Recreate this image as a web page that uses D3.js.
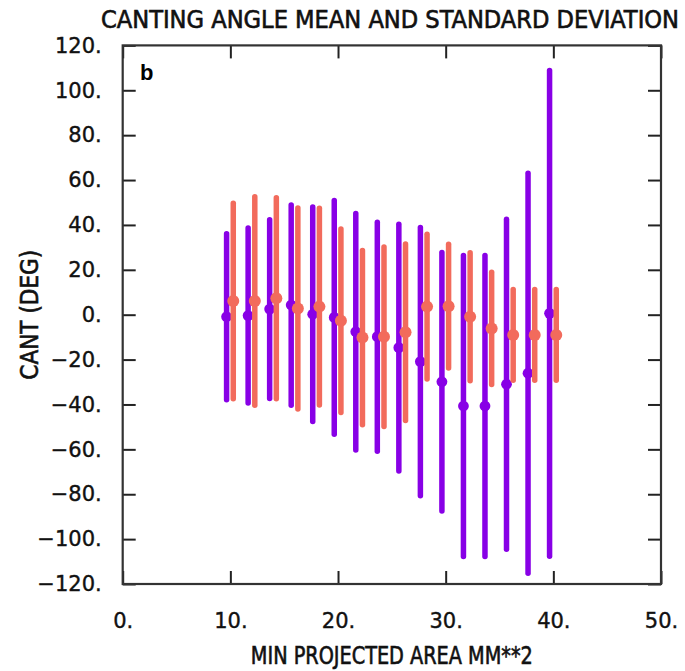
<!DOCTYPE html>
<html>
<head>
<meta charset="utf-8">
<script src="https://cdn.jsdelivr.net/npm/d3@7"></script>
<style>
  body { margin: 0; background: #fff; }
  svg { display: block; }
</style>
</head>
<body>
<div id="chart"></div>
<script>
// bin centres (mm**2) and canting angle stats (deg) for the two series
var bins = [10, 12, 14, 16, 18, 20, 22, 24, 26, 28, 30, 32, 34, 36, 38, 40];
var purpleMean = [-0.9, -0.4, 2.5, 4.3, 0.2, -1.2, -7.6, -9.8, -14.7, -20.9, -29.9, -40.7, -40.7, -31.0, -26.1, 0.6];
var purpleStd = [37.0, 39.0, 39.8, 44.6, 47.8, 52.1, 52.7, 51.0, 55.0, 59.8, 57.6, 67.1, 67.1, 73.5, 89.1, 108.2];
var orangeMean = [6.1, 6.1, 7.3, 2.8, 3.6, -2.7, -10.2, -9.8, -7.8, 3.6, 3.8, -0.9, -6.1, -9.0, -9.0, -9.0];
var orangeStd = [43.6, 46.5, 44.8, 44.8, 43.8, 40.9, 38.8, 40.0, 39.3, 32.3, 27.6, 28.5, 25.0, 20.2, 20.2, 20.2];
var xTicks = [0, 10, 20, 30, 40, 50];
var yTicks = [-120, -100, -80, -60, -40, -20, 0, 20, 40, 60, 80, 100, 120];

var W = 685, H = 671;
var margin = {top: 45.4, right: 24, bottom: 87, left: 122.7};
var w = W - margin.left - margin.right,
    h = H - margin.top - margin.bottom;

var svg = d3.select('#chart').append('svg')
  .attr('width', W)
  .attr('height', H);

var g = svg.append('g')
  .attr('transform', 'translate(' + margin.left + ',' + margin.top + ')');

var x = d3.scaleLinear().domain([0, 50]).range([0, w]);
var y = d3.scaleLinear().domain([-120, 120]).range([h, 0]);

function fmt(d) {
  return (d < 0 ? '\u2212' + (-d) : d) + '.';
}

var tickLen = 13;
var labelFont = '"DejaVu Sans", sans-serif';

// axes: ticks point inward like the NCAR perimeter
g.append('g')
  .call(d3.axisLeft(y).tickValues(yTicks).tickSizeInner(-tickLen).tickSizeOuter(0).tickPadding(21).tickFormat(fmt));
g.append('g')
  .attr('transform', 'translate(' + w + ',0)')
  .call(d3.axisRight(y).tickValues(yTicks).tickSizeInner(-tickLen).tickSizeOuter(0).tickFormat(''));
g.append('g')
  .attr('transform', 'translate(0,' + h + ')')
  .call(d3.axisBottom(x).tickValues(xTicks).tickSizeInner(-tickLen).tickSizeOuter(0).tickPadding(29).tickFormat(fmt));
g.append('g')
  .call(d3.axisTop(x).tickValues(xTicks).tickSizeInner(-tickLen).tickSizeOuter(0).tickFormat(''));

g.selectAll('.domain').remove();
g.selectAll('.tick line').attr('stroke', '#222').attr('stroke-width', 2);
g.selectAll('.tick text')
  .attr('fill', '#111')
  .attr('stroke', '#111')
  .attr('stroke-width', 0.4)
  .style('font-family', labelFont)
  .style('font-size', '21px');

g.append('rect')
  .attr('width', w)
  .attr('height', h)
  .attr('fill', 'none')
  .attr('stroke', '#333')
  .attr('stroke-width', 2.2);

// error bars
function drawSeries(means, stds, offset, color, lw, r) {
  var s = g.append('g');
  s.selectAll('line')
    .data(bins)
    .enter().append('line')
    .attr('x1', function(d) { return x(d + offset); })
    .attr('x2', function(d) { return x(d + offset); })
    .attr('y1', function(d, i) { return y(means[i] + stds[i]); })
    .attr('y2', function(d, i) { return y(means[i] - stds[i]); })
    .attr('stroke', color)
    .attr('stroke-width', lw)
    .attr('stroke-linecap', 'round');
  s.selectAll('circle')
    .data(bins)
    .enter().append('circle')
    .attr('cx', function(d) { return x(d + offset); })
    .attr('cy', function(d, i) { return y(means[i]); })
    .attr('r', r)
    .attr('fill', color);
}

drawSeries(purpleMean, purpleStd, -0.35, '#8800e6', 5.5, 5.4);
drawSeries(orangeMean, orangeStd, 0.27, '#f26b5c', 5.5, 6);

// titles
var titleFont = '"Liberation Sans Narrow", "DejaVu Sans Condensed", sans-serif';

function title(sel) {
  sel.style('font-family', titleFont)
    .style('font-size', '24px')
    .attr('fill', '#111')
    .attr('stroke', '#111')
    .attr('stroke-width', 0.6);
}

svg.append('text')
  .attr('x', 101)
  .attr('y', 28)
  .attr('textLength', 578)
  .attr('lengthAdjust', 'spacingAndGlyphs')
  .call(title)
  .text('CANTING ANGLE MEAN AND STANDARD DEVIATION');

svg.append('text')
  .attr('x', margin.left + w / 2)
  .attr('y', 664)
  .attr('text-anchor', 'middle')
  .attr('textLength', 282)
  .attr('lengthAdjust', 'spacingAndGlyphs')
  .call(title)
  .text('MIN PROJECTED AREA MM**2');

svg.append('text')
  .attr('transform', 'translate(38,' + (margin.top + h / 2) + ') rotate(-90)')
  .attr('text-anchor', 'middle')
  .attr('textLength', 130)
  .attr('lengthAdjust', 'spacingAndGlyphs')
  .call(title)
  .text('CANT (DEG)');

svg.append('text')
  .attr('x', 140)
  .attr('y', 80)
  .style('font-family', '"Liberation Sans", Arial, sans-serif')
  .style('font-weight', 'bold')
  .style('font-size', '22px')
  .attr('fill', '#000')
  .text('b');
</script>
</body>
</html>
